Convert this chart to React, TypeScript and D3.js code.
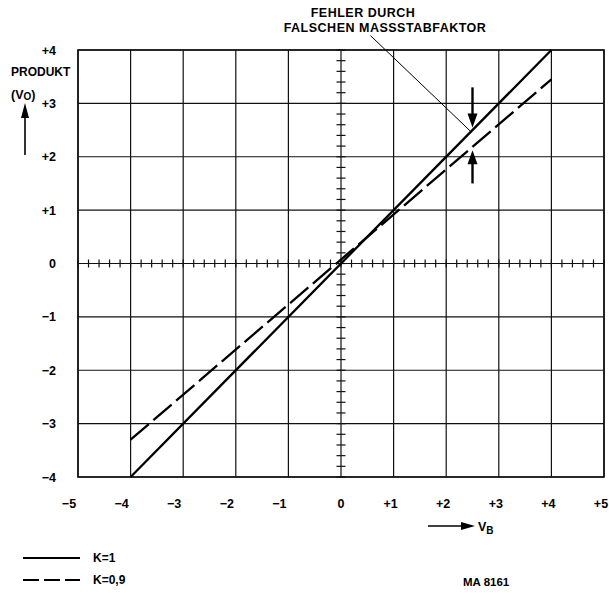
import * as d3 from 'd3';

// Achsenwerte
const xTicks = [-5, -4, -3, -2, -1, 0, 1, 2, 3, 4, 5];
const yTicks = [-4, -3, -2, -1, 0, 1, 2, 3, 4];

// Kennlinien (V_B, Produkt)
const lineK1: [number, number][] = [[-4, -4], [4, 4]];
const lineK09: [number, number][] = [[-4, -3.3], [4, 3.45]];

// Fehlerpfeile bei V_B = 2,5
const errX = 2.5;
const errTop = 3.3;
const errTopTip = 2.55;
const errBottom = 1.5;
const errBottomTip = 2.12;

// Hinweislinie der Beschriftung
const leader: [number, number][] = [[0.56, 4.27], [2.47, 2.47]];

const W = 609;
const H = 593;
const FONT = '"Liberation Sans", Arial, sans-serif';

function fmt(v: number) {
  if (v > 0) return `+${v}`;
  if (v < 0) return `\u2212${Math.abs(v)}`;
  return '0';
}

export default function App() {
  const x = d3.scaleLinear().domain([-5, 5]).range([78, 604]);
  const y = d3.scaleLinear().domain([-4, 4]).range([477, 50]);

  const line = d3.line<[number, number]>()
    .x(d => x(d[0]))
    .y(d => y(d[1]));

  const minorX = d3.range(-5, 5.001, 0.2);
  const minorY = d3.range(-4, 4.001, 0.2);

  const ax = x(errX);

  return (
    <svg width={W} height={H} style={{ position: 'absolute', left: 0, top: 0, background: '#fff' }}
      fontFamily={FONT} fontWeight="bold">
      {/* Titel */}
      <text x={363} y={17} textAnchor="middle" fontSize={12.5} letterSpacing={0.5}>FEHLER DURCH</text>
      <text x={385} y={32} textAnchor="middle" fontSize={12.5} letterSpacing={0.5}>FALSCHEN MASSSTABFAKTOR</text>

      {/* Gitter */}
      {xTicks.map(t => (
        <line key={'gx' + t} x1={x(t)} x2={x(t)} y1={y(-4)} y2={y(4)} stroke="#111" strokeWidth={1.2} />
      ))}
      {yTicks.map(t => (
        <line key={'gy' + t} x1={x(-5)} x2={x(5)} y1={y(t)} y2={y(t)} stroke="#111" strokeWidth={1.2} />
      ))}
      <rect x={x(-5)} y={y(4)} width={x(5) - x(-5)} height={y(-4) - y(4)} fill="none" stroke="#111" strokeWidth={1.6} />

      {/* Teilstriche auf den Achsen */}
      {minorX.map((t, i) => (
        <line key={'mx' + i} x1={x(t)} x2={x(t)} y1={y(0) - 4} y2={y(0) + 4} stroke="#111" strokeWidth={1.2} />
      ))}
      {minorY.map((t, i) => (
        <line key={'my' + i} x1={x(0) - 4.5} x2={x(0) + 4.5} y1={y(t)} y2={y(t)} stroke="#111" strokeWidth={1.2} />
      ))}

      {/* Kennlinien */}
      <path d={line(lineK1) ?? ''} fill="none" stroke="#000" strokeWidth={2.3} />
      <path d={line(lineK09) ?? ''} fill="none" stroke="#000" strokeWidth={2.3} strokeDasharray="24,6" />

      {/* Hinweislinie */}
      <path d={line(leader) ?? ''} fill="none" stroke="#000" strokeWidth={1} />

      {/* Fehlerpfeile */}
      <line x1={ax} x2={ax} y1={y(errTop)} y2={y(errTopTip) - 10} stroke="#000" strokeWidth={2.4} />
      <path d={`M${ax - 5},${y(errTopTip) - 14} L${ax + 5},${y(errTopTip) - 14} L${ax},${y(errTopTip)} Z`} fill="#000" />
      <line x1={ax} x2={ax} y1={y(errBottom)} y2={y(errBottomTip) + 10} stroke="#000" strokeWidth={2.4} />
      <path d={`M${ax - 5},${y(errBottomTip) + 14} L${ax + 5},${y(errBottomTip) + 14} L${ax},${y(errBottomTip)} Z`} fill="#000" />

      {/* Achsenbeschriftungen */}
      {yTicks.map(t => (
        <text key={'ly' + t} x={56} y={y(t) + 4.5} textAnchor="end" fontSize={12.5}>{fmt(t)}</text>
      ))}
      {xTicks.map(t => (
        <text key={'lx' + t} x={x(t) + (t < 0 ? -9 : t > 0 ? -3 : 0)} y={508} textAnchor="middle" fontSize={12.5}>{fmt(t)}</text>
      ))}

      {/* Y-Achsentitel */}
      <text x={11} y={76} fontSize={12}>PRODUKT</text>
      <text x={11} y={99} fontSize={12.5}>(V<tspan fontSize={10} dy={1}>O</tspan><tspan dy={-1}>)</tspan></text>
      <line x1={25} x2={25} y1={155} y2={114} stroke="#000" strokeWidth={1.6} />
      <path d="M21,118 L29,118 L25,103 Z" fill="#000" />

      {/* X-Achsentitel */}
      <line x1={428} x2={463} y1={526} y2={526} stroke="#000" strokeWidth={1.6} />
      <path d="M461,522 L461,530 L475,526 Z" fill="#000" />
      <text x={478} y={531} fontSize={12.5}>V<tspan fontSize={10} dy={3}>B</tspan></text>

      {/* Legende */}
      <line x1={23} x2={80} y1={558} y2={558} stroke="#000" strokeWidth={2} />
      <text x={93} y={562} fontSize={12}>K=1</text>
      <line x1={23} x2={80} y1={580} y2={580} stroke="#000" strokeWidth={2} strokeDasharray="16,5" />
      <text x={93} y={584} fontSize={12}>K=0,9</text>

      <text x={463} y={586} fontSize={11.5}>MA 8161</text>
    </svg>
  );
}
